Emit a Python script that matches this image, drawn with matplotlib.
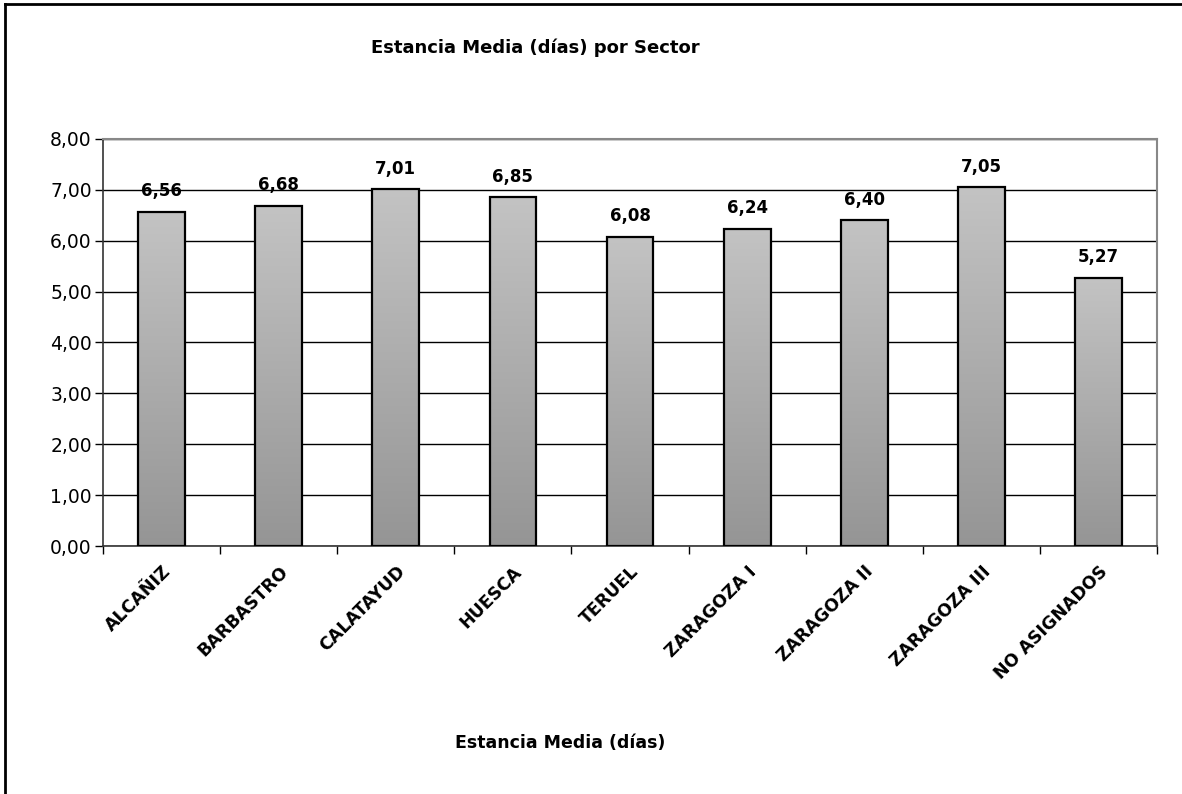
import numpy as np
import matplotlib
matplotlib.use("Agg")
from matplotlib import pyplot as plt
from matplotlib.lines import Line2D
from matplotlib.colors import LinearSegmentedColormap

plt.rcParams['font.family'] = ['DejaVu Sans']

sectores = ["ALCAÑIZ", "BARBASTRO", "CALATAYUD", "HUESCA", "TERUEL",
            "ZARAGOZA I", "ZARAGOZA II", "ZARAGOZA III", "NO ASIGNADOS"]
estancia = [6.56, 6.68, 7.01, 6.85, 6.08, 6.24, 6.40, 7.05, 5.27]
yticks = [0, 1, 2, 3, 4, 5, 6, 7, 8]

fig = plt.figure(figsize=(11.82, 7.94), dpi=100)
ax = fig.add_axes([0.0871, 0.3123, 0.8919, 0.5127])

x = np.arange(len(sectores))
ancho = 0.4

# degradado gris por barra
cmap = LinearSegmentedColormap.from_list("gris", ["#959595", "#c3c3c3"])
grad = np.linspace(0, 1, 256).reshape(-1, 1)
bars = ax.bar(x, estancia, width=ancho, color="none", edgecolor="black", linewidth=1.6, zorder=3)
for b, v in zip(bars, estancia):
    ax.imshow(grad, cmap=cmap, origin="lower", aspect="auto",
              extent=[b.get_x(), b.get_x() + ancho, 0, v], zorder=2)
    ax.text(b.get_x() + ancho / 2, v + 0.31, f"{v:.2f}".replace(".", ","),
            ha="center", va="baseline", fontsize=12, fontweight="bold", zorder=4)

ax.set_xlim(-0.5, len(sectores) - 0.5)
ax.set_ylim(0, 8)
ax.set_yticks(yticks)
ax.set_yticklabels([f"{t:.2f}".replace(".", ",") for t in yticks], fontsize=13.5)
ax.yaxis.grid(True, color="black", linewidth=1, zorder=1)
ax.set_axisbelow(True)

ax.set_xticks(x)
ax.set_xticklabels(sectores, rotation=45, ha="right", rotation_mode="anchor",
                   fontsize=12.5, fontweight="bold")
ax.tick_params(axis="x", length=0, pad=12)
ax.set_xticks(np.arange(len(sectores) + 1) - 0.5, minor=True)
ax.tick_params(axis="x", which="minor", length=6, width=1, direction="out")
ax.tick_params(axis="y", length=6, width=1, direction="out", pad=2)

for s in ["top", "right"]:
    ax.spines[s].set_color("#888888")
    ax.spines[s].set_linewidth(1.5)
for s in ["left", "bottom"]:
    ax.spines[s].set_color("#333333")
    ax.spines[s].set_linewidth(1.2)

fig.text(0.453, 0.94, "Estancia Media (días) por Sector", ha="center", va="center",
         fontsize=13, fontweight="bold")
fig.text(0.474, 0.064, "Estancia Media (días)", ha="center", va="center",
         fontsize=12.5, fontweight="bold")

# marco exterior (solo arriba e izquierda visibles)
fig.add_artist(Line2D([0.004, 1.0], [0.9945, 0.9945], color="black", linewidth=2, transform=fig.transFigure))
fig.add_artist(Line2D([0.004, 0.004], [0.0, 0.9945], color="black", linewidth=2, transform=fig.transFigure))

fig.savefig("out.png", dpi=100)
